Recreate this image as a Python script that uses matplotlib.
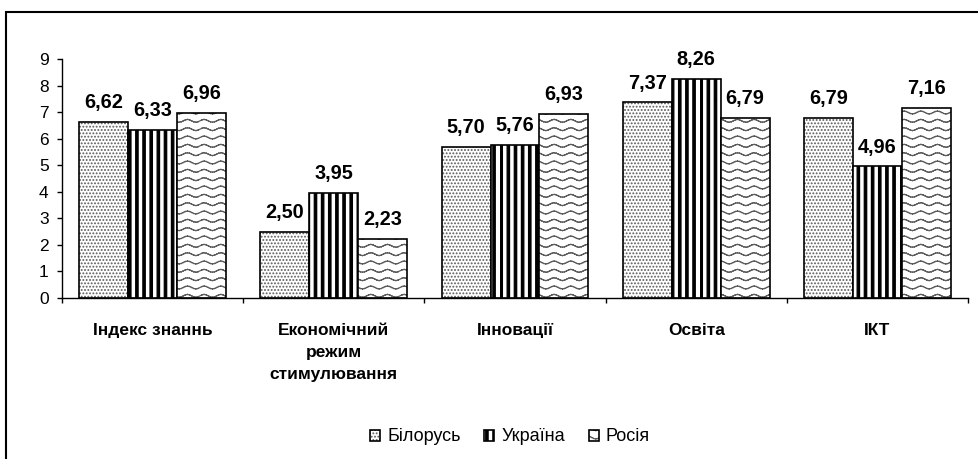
import warnings
import numpy as np
import matplotlib
matplotlib.use('Agg')
import matplotlib.pyplot as plt
import matplotlib.hatch as mhatch
from matplotlib.path import Path
from matplotlib.patches import Rectangle

warnings.filterwarnings('ignore')

categories = ['Індекс знаннь', 'Економічний\nрежим\nстимулювання', 'Інновації', 'Освіта', 'ІКТ']
countries = ['Білорусь', 'Україна', 'Росія']
belarus = [6.62, 2.50, 5.70, 7.37, 6.79]
ukraine = [6.33, 3.95, 5.76, 8.26, 4.96]
russia = [6.96, 2.23, 6.93, 6.79, 7.16]


# --- extra hatch patterns (excel-like fills) ---
class WaveHatch(mhatch.HatchPatternBase):
    # rows of small waves, cut in 2-point segments so agg doesn't fill them
    def __init__(self, hatch, density):
        self.num_rows = hatch.count('~') * density
        self.segs = 6 * 8
        self.num_vertices = self.num_rows * self.segs * 2

    def set_vertices_and_codes(self, vertices, codes):
        xs = np.linspace(0, 1, self.segs + 1)
        amp = 0.014
        k = 0
        for r in range(self.num_rows):
            yc = (r + 0.5) / self.num_rows
            ys = yc + amp * np.sin(2 * np.pi * 6 * xs)
            for i in range(self.segs):
                vertices[k] = (xs[i], ys[i])
                vertices[k + 1] = (xs[i + 1], ys[i + 1])
                codes[k] = Path.MOVETO
                codes[k + 1] = Path.LINETO
                k += 2


class ThickStripes(mhatch.HatchPatternBase):
    # filled vertical bands
    def __init__(self, hatch, density):
        self.num_lines = hatch.count('!') * 7
        self.num_vertices = self.num_lines * 5

    def set_vertices_and_codes(self, vertices, codes):
        w = 0.024
        for i in range(self.num_lines):
            x0 = i / self.num_lines
            vertices[i*5:(i+1)*5] = [(x0, 0), (x0 + w, 0), (x0 + w, 1), (x0, 1), (x0, 0)]
            codes[i*5:(i+1)*5] = [Path.MOVETO, Path.LINETO, Path.LINETO, Path.LINETO, Path.CLOSEPOLY]


mhatch._hatch_types.append(WaveHatch)
mhatch._hatch_types.append(ThickStripes)

plt.rcParams['font.family'] = ['Liberation Sans', 'DejaVu Sans']
plt.rcParams['hatch.linewidth'] = 0.9

fig = plt.figure(figsize=(9.79, 4.59), dpi=100)
ax = fig.add_axes([62/979, 1 - 298/459, (968-62)/979, (298-59)/459])

x = np.arange(len(categories))
w = 0.27
series = [belarus, ukraine, russia]
hatches = ['.....', '!!', '~~']
hcolors = ['#5a5a5a', 'black', '#5c5c5c']

handles = []
for i, vals in enumerate(series):
    pos = x + (i - 1) * w
    bh = ax.bar(pos, vals, w, color='white', edgecolor=hcolors[i], linewidth=0, hatch=hatches[i])
    bo = ax.bar(pos, vals, w, fill=False, edgecolor='black', linewidth=1.2)
    handles.append((bh, bo))
    for xx, v in zip(pos, vals):
        ax.annotate(f'{v:.2f}'.replace('.', ','), (xx, v), xytext=(0, 7),
                    textcoords='offset points', ha='center', va='bottom',
                    fontsize=14.3, fontweight='bold')

ax.set_xlim(-0.5, len(categories) - 0.5)
ax.set_ylim(0, 9)
ax.set_yticks(range(10))
ax.tick_params(axis='y', length=3.6, width=1, pad=6, labelsize=12.5)

ax.set_xticks(x)
ax.set_xticklabels(categories, fontsize=12.5, fontweight='bold', linespacing=1.6)
ax.set_xticks(np.arange(-0.5, len(categories)), minor=True)
ax.tick_params(axis='x', which='major', length=0, pad=18)
ax.tick_params(axis='x', which='minor', length=3.6, width=1)

for s in ['top', 'right']:
    ax.spines[s].set_visible(False)
ax.spines['left'].set_linewidth(1)
ax.spines['bottom'].set_linewidth(1)

fig.legend(handles, countries, loc='center', bbox_to_anchor=(0.521, 0.048),
           ncol=3, frameon=False, fontsize=13, handlelength=0.55, handleheight=0.55,
           handletextpad=0.4, columnspacing=1.3)

# frame around the whole chart area (runs past the image edge)
fig.patches.append(Rectangle((6/979, -0.2), 1.2, (459-12)/459 + 0.2, transform=fig.transFigure,
                             fill=False, edgecolor='black', linewidth=1.5))

fig.savefig('out.png', dpi=100)
